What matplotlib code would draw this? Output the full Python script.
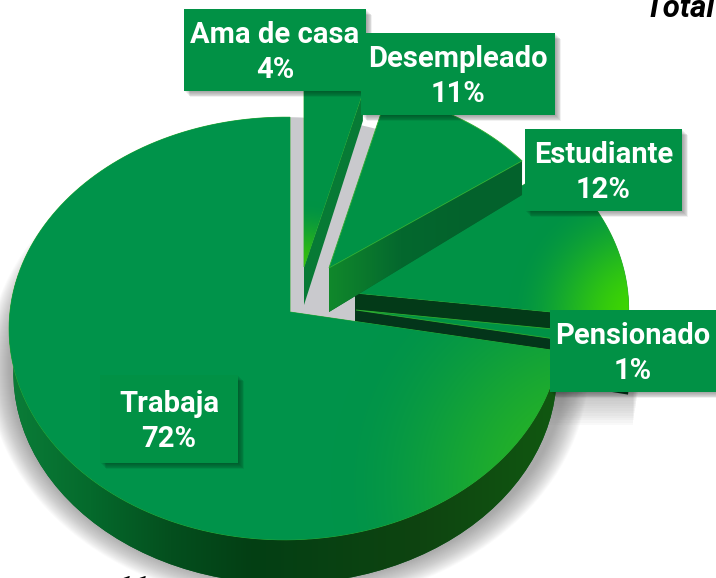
# Pastel 3D de ocupacion
import numpy as np
import matplotlib
matplotlib.use('Agg')
from matplotlib import pyplot as plt
from matplotlib.colors import to_rgb
from matplotlib.patches import Ellipse, Polygon, Rectangle

categorias = ['Ama de casa', 'Desempleado', 'Estudiante', 'Pensionado', 'Trabaja']
porcentajes = [4, 11, 12, 1, 72]

# vertice de cada rebanada, escala y altura de la pared (en el vertice, en el borde)
vertices = [(304, 267), (329, 268), (355, 293), (356, 310), (290, 312)]
escalas = [0.93, 0.92, 1.01, 1.01, 1.0]
alturas = [(38, 29), (44, 34), (40, 38), (40, 45), (44, 44)]
colores_pared = ['#077a35', '#03662d', '#033a18', '#03351a', '#035a22']
# caja de cada etiqueta: izquierda, arriba, derecha, abajo
cajas = [(184, 9, 366, 91), (361, 33, 555, 115), (525, 129, 682, 211),
         (550, 310, 716, 392), (100, 375, 238, 463)]

VERDE = '#009245'
ANCHO, ALTO = 716, 578
A, B, K, L = 275, 210, 0.078, 0.018

plt.rcParams['font.family'] = ['Roboto', 'DejaVu Sans']
fig = plt.figure(figsize=(ANCHO / 100, ALTO / 100), dpi=100)
ax = fig.add_axes([0, 0, 1, 1])


def proyecta(grados, vertice, esc=1.0):
    # circulo del plano visto en perspectiva
    t = np.radians(grados)
    x, y = np.cos(t), np.sin(t)
    d = 1 + K * y + L * x
    return vertice[0] + A * esc * x / d, vertice[1] - B * esc * y / d


def cara(ini, fin, vertice, esc):
    t = np.linspace(ini, fin, 160)
    x, y = proyecta(t, vertice, esc)
    return np.vstack([[vertice], np.column_stack([x, y])])


def pared(fin, vertice, esc, alto):
    x, y = proyecta(fin, vertice, esc)
    return [vertice, (x, y), (x, y + alto[1]), (vertice[0], vertice[1] + alto[0])]


def borde(ini, fin, vertice, esc, alto, encoge=1.0):
    t = np.linspace(ini, fin, 60)
    x, y = proyecta(t, vertice, esc)
    xb = vertice[0] + (x - vertice[0]) * encoge
    return np.vstack([np.column_stack([x, y]), np.column_stack([xb, y + alto])[::-1]])


def radial(parche, cx, cy, radio, brillo, base, z):
    # degradado radial recortado a la figura
    yy, xx = np.mgrid[0:ALTO, 0:ANCHO]
    m = np.clip(np.hypot(xx - cx, yy - cy) / radio, 0, 1)[..., None]
    m = m * m * (3 - 2 * m)
    img = (1 - m) * np.array(to_rgb(brillo)) + m * np.array(to_rgb(base))
    im = ax.imshow(img, extent=(0, ANCHO, ALTO, 0), zorder=z, interpolation='bilinear')
    im.set_clip_path(parche)


def horizontal(parche, xs, cols, z):
    # degradado segun x
    c = np.array([to_rgb(k) for k in cols])
    fila = np.column_stack([np.interp(np.arange(ANCHO), xs, c[:, i]) for i in range(3)])
    im = ax.imshow(fila[None, :, :], extent=(0, ANCHO, ALTO, 0), aspect='auto', zorder=z)
    im.set_clip_path(parche)


# angulos a partir de los porcentajes, sentido horario desde arriba
fin_ang = 90 - np.cumsum(porcentajes) * 3.6
ini_ang = np.r_[90, fin_ang[:-1]]
ultimo = ini_ang[-1]

# sombra suave debajo del pastel
for i in range(24):
    ax.add_patch(Ellipse((288, 366), 2 * (278 + i), 2 * (216 + i), fc='#707070',
                         ec='none', alpha=0.03, zorder=1))
for i in range(14):
    ax.add_patch(Rectangle((540, 380), 98 - i * 0.4, 14 + 2.4 * i, fc='#707070',
                           ec='none', alpha=0.035, zorder=1))

# hueco gris detras de las rebanadas separadas
ax.add_patch(Polygon(cara(90, ultimo, vertices[4], 1.0), fc='#c9c9cd', ec='none', zorder=2))

# rebanadas de atras hacia delante
z = 3
for i in [2, 3, 1, 0]:
    v, e, h = vertices[i], escalas[i], alturas[i]
    if fin_ang[i] < 0 or ini_ang[i] < 0:
        p = Polygon(borde(min(ini_ang[i], 0), fin_ang[i], v, e, h[1]), fc='#0a4d12', ec='none', zorder=z)
        ax.add_patch(p)
    p = Polygon(pared(fin_ang[i], v, e, h), fc=colores_pared[i], ec='none', zorder=z)
    ax.add_patch(p)
    if i == 1:
        horizontal(p, [325, 400, 470], ['#118a2b', '#04682e', '#03622c'], z)
    # la cara de Estudiante entra un poco bajo la pared de Desempleado
    extra = 4 if i == 2 else 0
    f = Polygon(cara(ini_ang[i] + extra, fin_ang[i], v, e), fc=VERDE, ec='#2fae2f', lw=0.6, zorder=z + 1)
    ax.add_patch(f)
    if i == 2:
        radial(f, 642, 315, 135, '#40d800', VERDE, z + 1)
    if i == 0:
        radial(f, 304, 275, 75, '#3cc408', VERDE, z + 1)
    z += 2

# rebanada grande: pared exterior y cara
p = Polygon(borde(ultimo, -190, vertices[4], 1.0, alturas[4][1], 0.985), fc=colores_pared[4], ec='none', zorder=z)
ax.add_patch(p)
horizontal(p, [10, 90, 170, 250, 420, 570], ['#0a7d38', '#056a2c', '#044f1e', '#033f14', '#0e4410', '#115a10'], z)
f = Polygon(cara(ultimo, fin_ang[-1], vertices[4], 1.0), fc=VERDE, ec='#2fae2f', lw=0.6, zorder=z + 1)
ax.add_patch(f)
radial(f, 590, 485, 260, '#2cb820', '#00934a', z + 1)

# etiquetas con sombra
for c in cajas:
    x0, y0, x1, y1 = c
    for s in range(1, 8):
        ax.add_patch(Rectangle((x0 + s * 0.9, y0 + s * 0.9), x1 - x0, y1 - y0, fc='black',
                               ec='none', alpha=0.055, zorder=30))
for nombre, valor, c in zip(categorias, porcentajes, cajas):
    x0, y0, x1, y1 = c
    ax.add_patch(Rectangle((x0, y0), x1 - x0, y1 - y0, fc='#019145', ec='none', zorder=31))
    ax.text((x0 + x1) / 2, (y0 + y1) / 2 + 2.5, '%s\n%d%%' % (nombre, valor), color='white', fontsize=21,
            fontweight='bold', ha='center', va='center', linespacing=1.36, zorder=32)

# textos cortados en los bordes
ax.text(645, 17, 'Total', fontsize=22.5, fontweight='bold', fontstyle='italic', color='black', zorder=33)
ax.text(116, 598, '11', fontsize=22, fontweight='bold', fontstyle='italic', color='black', zorder=33)

ax.set_xlim(0, ANCHO)
ax.set_ylim(ALTO, 0)
ax.set_aspect('auto')
ax.axis('off')
fig.savefig('out.png', dpi=100)
